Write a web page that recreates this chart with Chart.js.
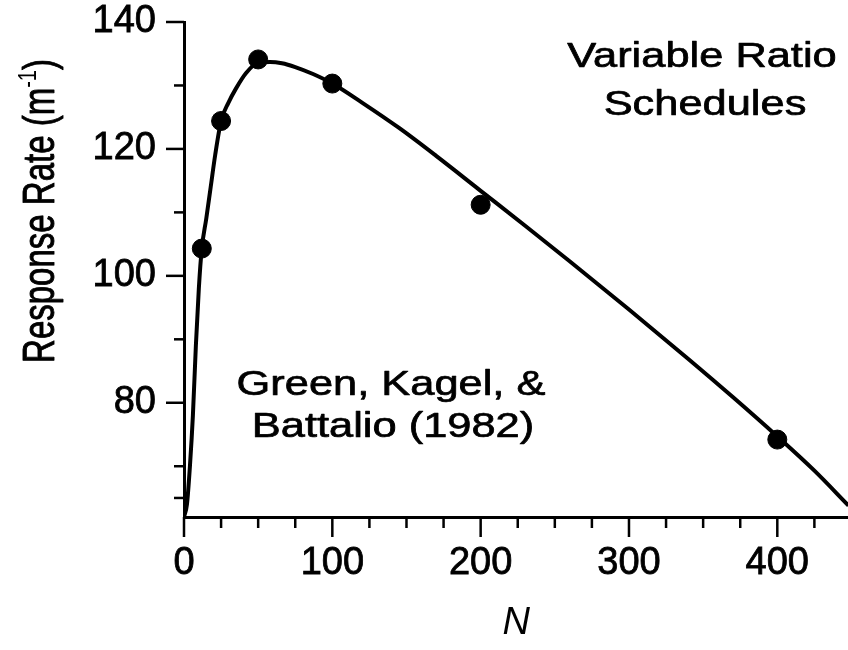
<!DOCTYPE html>
<html><head><meta charset="utf-8">
<script src="https://cdn.jsdelivr.net/npm/chart.js@4.4.1/dist/chart.umd.min.js"></script>
<style>
html,body{margin:0;padding:0;background:#fff;overflow:hidden;}
#frame{width:848px;height:650px;position:relative;overflow:hidden;}
#wrap{position:absolute;left:0;top:-25px;width:859px;height:675px;}
</style>
</head><body><div id="frame"><div id="wrap"><canvas id="c"></canvas></div></div>
<script>
// Fitted curve
const fitN    = [0, 2, 4, 6, 8, 10, 12, 15, 18, 21, 25, 30, 35, 42, 50, 58, 66, 75, 87, 100, 120, 145, 170, 200, 230, 260, 300, 340, 370, 400, 425, 448];
const fitRate = [62, 64, 70, 78, 89, 98, 104.3, 109, 114, 119, 124.4, 127.3, 129.5, 132, 133.6, 133.7, 133.5, 132.9, 131.8, 130.3, 127.3, 123.3, 118.9, 113.4, 107.9, 102.3, 94.7, 86.9, 80.9, 74.7, 69.3, 63.8];
// Observed points
const obsN    = [12, 25, 50, 100, 200, 400];
const obsRate = [104.3, 124.4, 134.1, 130.3, 111.2, 74.2];
// Ticks
const xTickLabels = [0, 100, 200, 300, 400];
const xMinorTicks = [25, 50, 75, 125, 150, 175, 225, 250, 275, 325, 350, 375, 425];
const yTickLabels = [80, 100, 120, 140];
const yMinorTicks = [65, 70, 90, 110, 130];
const xMin = 0, xMax = 448, yMin = 62, yMax = 140;

const FONT = "'Liberation Sans', Arial, Helvetica, sans-serif";
const OY = 25; // canvas is shifted up by this many pixels inside the frame

const decor = {
  id: 'decor',
  afterDraw(chart) {
    const ctx = chart.ctx, xs = chart.scales.x, ys = chart.scales.y, ca = chart.chartArea;
    ctx.save();
    ctx.strokeStyle = '#000';
    ctx.lineWidth = 2.5;
    const tickY = (v, len) => { const y = ys.getPixelForValue(v); ctx.beginPath(); ctx.moveTo(ca.left, y); ctx.lineTo(ca.left - len, y); ctx.stroke(); };
    const tickX = (v, len) => { const x = xs.getPixelForValue(v); ctx.beginPath(); ctx.moveTo(x, ca.bottom); ctx.lineTo(x, ca.bottom + len); ctx.stroke(); };
    yTickLabels.forEach(v => tickY(v, 18));
    yMinorTicks.forEach(v => tickY(v, 10));
    xTickLabels.forEach(v => tickX(v, 20));
    xMinorTicks.forEach(v => tickX(v, 11));

    ctx.fillStyle = '#000';
    ctx.lineWidth = 0.7;
    ctx.lineJoin = 'round';
    // annotations (horizontally stretched like the scanned original)
    const ann = (txt, cx, by) => {
      ctx.save();
      ctx.translate(cx, by + OY);
      ctx.scale(1.24, 1);
      ctx.font = "35px " + FONT;
      ctx.textAlign = 'center';
      ctx.textBaseline = 'alphabetic';
      ctx.fillText(txt, 0, 0);
      ctx.strokeText(txt, 0, 0);
      ctx.restore();
    };
    ann('Variable Ratio', 702, 67);
    ann('Schedules', 705, 115);
    ann('Green, Kagel, &', 391, 395);
    ann('Battalio (1982)', 393, 437);

    // y-axis title with superscript
    ctx.save();
    ctx.translate(54, 211 + OY);
    ctx.rotate(-Math.PI / 2);
    ctx.scale(1, 1.32);
    ctx.textBaseline = 'alphabetic';
    ctx.textAlign = 'left';
    const mainF = "33px " + FONT, supF = "20px " + FONT;
    const t1 = 'Response Rate (m', t2 = '-1', t3 = ')';
    ctx.font = mainF; const w1 = ctx.measureText(t1).width, w3 = ctx.measureText(t3).width;
    ctx.font = supF; const w2 = ctx.measureText(t2).width;
    const total = w1 + w2 + w3;
    let x = -total / 2;
    ctx.font = mainF; ctx.fillText(t1, x, 0); ctx.strokeText(t1, x, 0); x += w1;
    ctx.font = supF; ctx.fillText(t2, x, -14); x += w2;
    ctx.font = mainF; ctx.fillText(t3, x, 0); ctx.strokeText(t3, x, 0);
    ctx.restore();
    ctx.restore();
  }
};

new Chart(document.getElementById('c'), {
  type: 'scatter',
  data: {
    datasets: [
      {
        data: fitN.map((n, i) => ({x: n, y: fitRate[i]})),
        showLine: true, borderColor: '#000', borderWidth: 4, pointRadius: 0,
        cubicInterpolationMode: 'monotone', fill: false
      },
      {
        data: obsN.map((n, i) => ({x: n, y: obsRate[i]})),
        showLine: false, pointRadius: 9.5, pointBackgroundColor: '#000', pointBorderColor: '#000', pointBorderWidth: 1
      }
    ]
  },
  options: {
    responsive: true, maintainAspectRatio: false, animation: false,
    devicePixelRatio: 1,
    layout: {padding: {top: 0, right: 0, left: 0, bottom: 0}},
    plugins: {legend: {display: false}, tooltip: {enabled: false}},
    scales: {
      x: {
        type: 'linear', min: xMin, max: xMax,
        afterBuildTicks: s => { s.ticks = xTickLabels.map(v => ({value: v})); },
        afterFit: s => { s.height = 133; },
        grid: {display: false, drawTicks: false},
        border: {display: true, color: '#000', width: 3},
        ticks: {color: '#000', font: {family: FONT, size: 38, lineHeight: 1}, padding: 28, maxRotation: 0, autoSkip: false, textStrokeColor: '#000', textStrokeWidth: 0.8},
        title: {display: true, text: 'N', color: '#000', font: {family: FONT, size: 38, style: 'italic', lineHeight: 1}, padding: {top: 0, bottom: 8}}
      },
      y: {
        type: 'linear', min: yMin, max: yMax,
        afterBuildTicks: s => { s.ticks = yTickLabels.map(v => ({value: v})); },
        afterFit: s => { s.width = 184; },
        grid: {display: false, drawTicks: false},
        border: {display: true, color: '#000', width: 3},
        ticks: {color: '#000', font: {family: FONT, size: 38, lineHeight: 1}, padding: 28, autoSkip: false, textStrokeColor: '#000', textStrokeWidth: 0.8}
      }
    }
  },
  plugins: [decor]
});
</script></body></html>
